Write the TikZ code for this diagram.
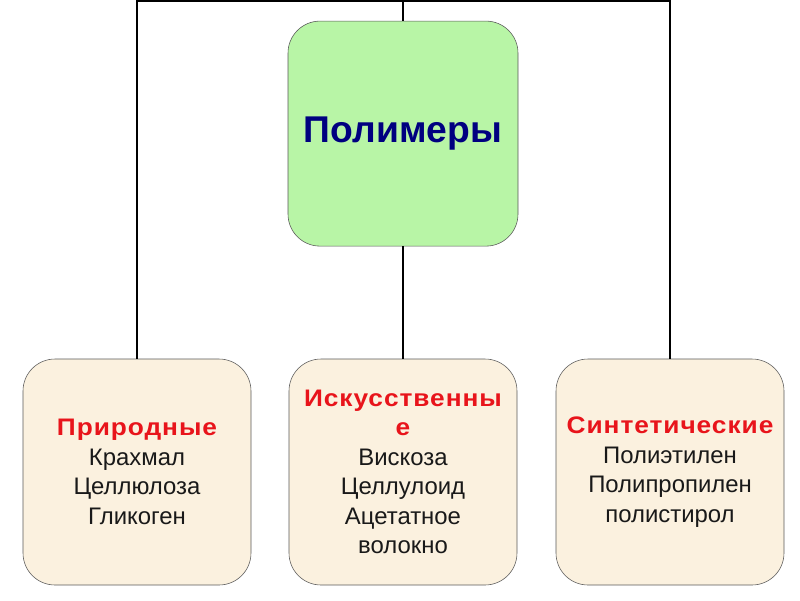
\documentclass[tikz,border=0pt]{standalone}
\usepackage{fontspec}
\setmainfont{Liberation Sans}
\usetikzlibrary{positioning}
\definecolor{polygreen}{HTML}{B8F5A6}
\definecolor{parchment}{HTML}{FBF1DF}
\definecolor{titleblue}{HTML}{000080}
\definecolor{headred}{HTML}{E8141B}
\newcommand{\kindhead}[1]{{\color{headred}\bfseries\addfontfeature{FakeStretch=1.1,LetterSpace=4}#1}}
\begin{document}
\begin{tikzpicture}[
    mainbox/.style={draw=black!65, fill=polygreen, rounded corners=0.8cm, minimum width=5.75cm, minimum height=5.625cm, inner sep=0pt, text=titleblue, font=\fontsize{26.5}{30}\selectfont\bfseries},
    kindbox/.style={draw=black!65, fill=parchment, rounded corners=0.8cm, minimum width=5.7cm, minimum height=5.65cm, inner sep=0pt, align=center, text=black!90, font=\fontsize{17}{21}\selectfont},
    link/.style={line width=1.5pt}
]
    \useasboundingbox (0,0) rectangle (20,-15);
    % Define nodes
    \node[mainbox] (poly) at (10.075,-3.34) {Полимеры};
    \node[kindbox] (nat) at (3.425,-11.8) {\kindhead{Природные}\\Крахмал\\Целлюлоза\\Гликоген};
    \node[kindbox] (art) at (10.075,-11.8) {\kindhead{Искусственны}\\\kindhead{е}\\Вискоза\\Целлулоид\\Ацетатное\\волокно};
    \node[kindbox] (syn) at (16.75,-11.8) {\kindhead{Синтетические}\\Полиэтилен\\Полипропилен\\полистирол};
    \coordinate (top) at (10.075,-0.03); % Top rail

    % Draw connectors
    \draw[link] (nat.north) -- (nat.north |- top) -- (syn.north |- top) -- (syn.north);
    \draw[link] (poly.north) -- (top);
    \draw[link] (poly.south) -- (art.north);
\end{tikzpicture}
\end{document}
